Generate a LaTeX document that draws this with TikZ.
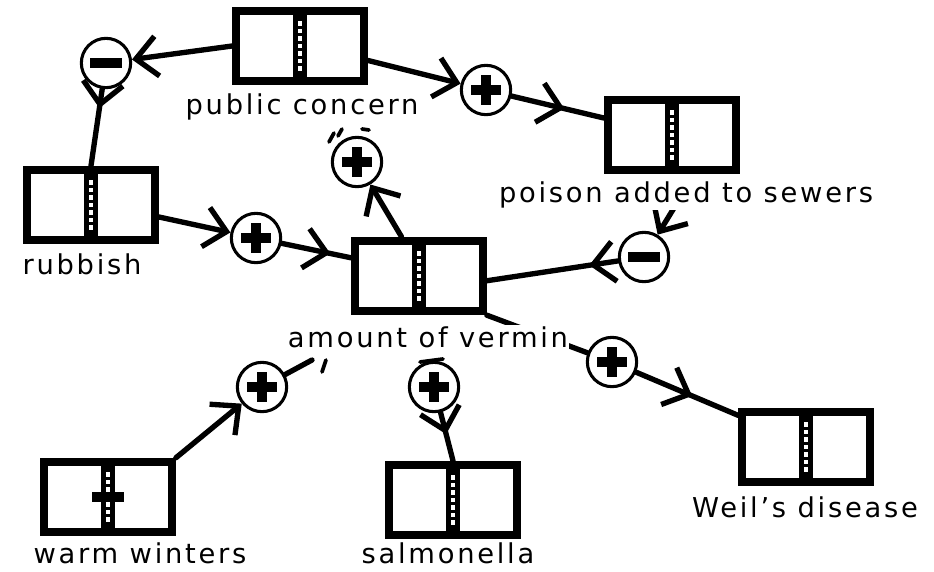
\documentclass[tikz,border=0pt]{standalone}
\usepackage{fontspec}
\setmainfont{DejaVu Sans}[LetterSpace=10]
\usetikzlibrary{arrows.meta,decorations.markings}

\tikzset{every picture/.style={line width=0.75pt}}
\tikzset{
  stock/.style={draw, line width=5.8pt, minimum width=96pt, minimum height=53pt, inner sep=0pt,
    path picture={
      \fill[black] ([xshift=-5pt]path picture bounding box.south) rectangle ([xshift=5pt]path picture bounding box.north);
      \foreach \k in {-3,...,3}
        \fill[white] ([shift={(-1.6pt,\k*5.6pt-1.6pt)}]path picture bounding box.center) rectangle ++(3.2pt,3.2pt);
    }},
  sign/.style={circle, draw, line width=2.3pt, minimum size=37pt, inner sep=0pt, fill=white},
  possign/.style={sign, path picture={
      \fill[black] ([shift={(-11.5pt,-3.8pt)}]path picture bounding box.center) rectangle ([shift={(11.5pt,3.8pt)}]path picture bounding box.center);
      \fill[black] ([shift={(-3.8pt,-11.5pt)}]path picture bounding box.center) rectangle ([shift={(3.8pt,11.5pt)}]path picture bounding box.center);
    }},
  negsign/.style={sign, path picture={
      \fill[black] ([shift={(-12pt,-3.8pt)}]path picture bounding box.center) rectangle ([shift={(12pt,3.8pt)}]path picture bounding box.center);
    }},
  link/.style={line width=4pt, line cap=round},
  barbed/.style={-{Straight Barb[length=16pt,width=30pt]}},
  midbarb/.style={postaction={decorate}, decoration={markings, mark=at position #1 with {\arrow{Straight Barb[length=16pt,width=30pt]}}}},
  scrap/.style={line width=2.8pt, line cap=round},
  lbl/.style={fill=white, inner sep=1pt, font=\fontsize{20.5}{24}\selectfont}
}

\begin{document}
\begin{tikzpicture}[x=0.75pt,y=0.75pt,yscale=-1,xscale=1]
	\useasboundingbox (0,0) rectangle (934,571);

	%Shape: Boxes
	\node[stock] (public) at (300,46) {};
	\node[stock] (poison) at (672,135) {};
	\node[stock] (rubbish) at (91,205) {};
	\node[stock] (vermin) at (419,276) {};
	\node[stock] (warm) at (108,497) {};
	\node[stock] (salmonella) at (453,500) {};
	\node[stock] (weil) at (806,447) {};
	%Shape: Bar across warm winters
	\fill ([shift={(-12pt,-3.75pt)}]warm.center) rectangle ([shift={(12pt,3.75pt)}]warm.center);

	%Shape: Signs
	\node[negsign] (c1) at (106,63) {};
	\node[possign] (c2) at (486,90) {};
	\node[possign] (c3) at (357,162) {};
	\node[possign] (c4) at (256,238) {};
	\node[negsign] (c5) at (644,257) {};
	\node[possign] (c6) at (262,387) {};
	\node[possign] (c7) at (434,387) {};
	\node[possign] (c8) at (612,362) {};
	\coordinate (s6) at (312,360);

	%Straight Lines
	\draw[link, barbed] (public.west) -- (c1);
	\draw[link, midbarb=0.25] (c1) -- (rubbish.north);
	\draw[link, barbed] (public.-12) -- (c2);
	\draw[link, midbarb=0.57] (c2) -- (poison.166);
	\draw[link, barbed] (rubbish.-10) -- (c4);
	\draw[link, midbarb=0.7] (c4) -- (vermin.165);
	\draw[link, barbed] (vermin.114) -- (c3);
	\draw[link, barbed, shorten <=30pt] (poison.-60) -- (c5);
	\draw[link, midbarb=0.22] (c5) -- (vermin.-4);
	\draw[link] (vermin.south east) -- (c8);
	\draw[link, midbarb=0.55] (c8) -- (weil.155);
	\draw[link, barbed] (warm.north east) -- (c6);
	\draw[link] (c6) -- (s6);
	\draw[link, midbarb=0.45] (c7) -- (salmonella.north);

	%Scraps
	\draw[scrap] (329,142) -- (334,133);
	\draw[scrap] (338,136) -- (342,129);
	\draw[scrap] (362,129) -- (369,130);
	\draw[scrap] (322,372) -- (326,360);
	\draw[scrap] (420,362) -- (443,359);

	% Text Node
	\node[lbl] (publicl) at (302,107) {public concern};
	% Text Node
	\node[lbl] (poisonl) at (686,195) {poison added to sewers};
	% Text Node
	\node[lbl] (rubbishl) at (82,264) {rubbish};
	% Text Node
	\node[lbl] (verminl) at (428,337) {amount of vermin};
	% Text Node
	\node[lbl] (warml) at (140,553) {warm winters};
	% Text Node
	\node[lbl] (salmonellal) at (448,553) {salmonella};
	% Text Node
	\node[lbl] (weill) at (805,507) {Weil's disease};

\end{tikzpicture}
\end{document}
